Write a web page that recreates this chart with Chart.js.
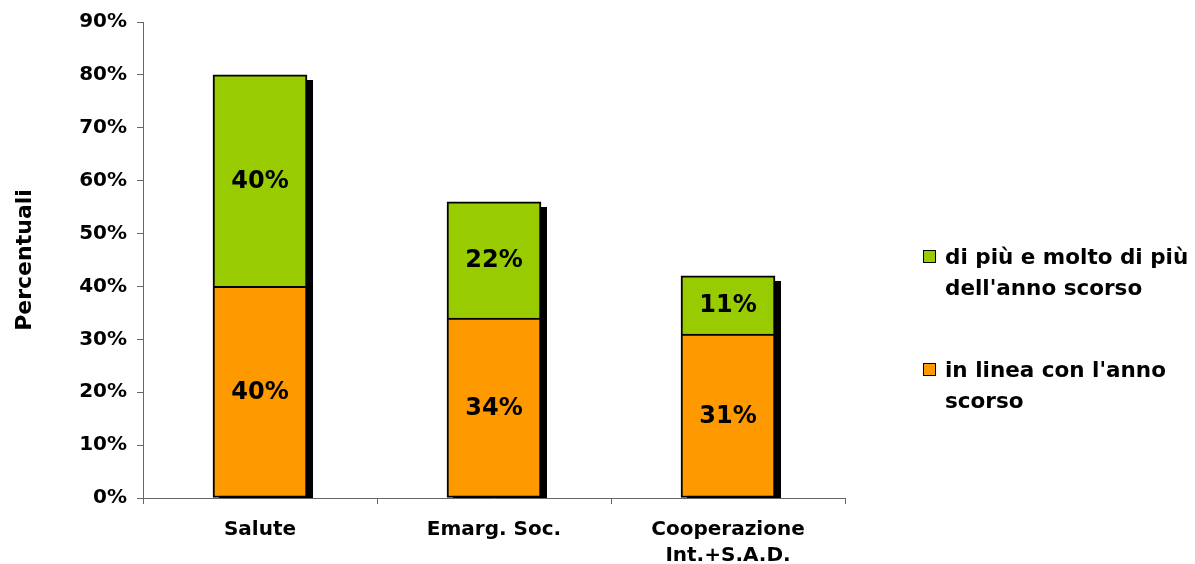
<!DOCTYPE html>
<html><head><meta charset="utf-8">
<script src="https://cdn.jsdelivr.net/npm/chart.js@4"></script>
<style>
body{margin:0;background:#fff;}
#wrap{position:relative;width:1195px;height:564px;}
#legend{position:absolute;left:923px;top:0;font-family:'DejaVu Sans',Verdana,sans-serif;font-weight:bold;font-size:21.5px;color:#000;}
.li{position:absolute;left:0;width:272px;line-height:31px;}
.sw{position:absolute;left:0;top:9px;width:11px;height:11px;border:1px solid #000;}
.tx{position:absolute;left:22px;white-space:nowrap;}
</style></head>
<body><div id="wrap"><canvas id="c" width="1195" height="564"></canvas><div id="legend"></div></div>
<script>
const categories = ["Salute", "Emarg. Soc.", ["Cooperazione", "Int.+S.A.D."]];
const inLinea = [40, 34, 31];
const diPiu = [40, 22, 11];
const seriesNames = ["in linea con l'anno scorso", "di più e molto di più dell'anno scorso"];
const legendLines = [["in linea con l'anno", "scorso"], ["di più e molto di più", "dell'anno scorso"]];
const colors = ["#FF9900", "#99CC00"];
const yTicks = [0,10,20,30,40,50,60,70,80,90];
const FONT = "'DejaVu Sans', Verdana, sans-serif";

const shadowPlugin = {
  id: 'shadow',
  beforeDatasetsDraw(chart) {
    const ctx = chart.ctx;
    const m0 = chart.getDatasetMeta(0), m1 = chart.getDatasetMeta(chart.data.datasets.length - 1);
    ctx.save();
    ctx.fillStyle = '#000';
    m0.data.forEach((b0, i) => {
      const top = m1.data[i];
      const p = top.getProps(['x','y','width','base'], true);
      const base = b0.getProps(['base'], true).base;
      ctx.fillRect(Math.round(p.x - p.width/2) + 6, Math.round(p.y) + 5, Math.round(p.width), Math.round(base - p.y) - 5);
    });
    ctx.restore();
  }
};
const labelPlugin = {
  id: 'vals',
  afterDatasetsDraw(chart) {
    const ctx = chart.ctx;
    ctx.save();
    ctx.font = 'bold 24px ' + FONT;
    ctx.fillStyle = '#000';
    ctx.textAlign = 'center';
    ctx.textBaseline = 'middle';
    chart.data.datasets.forEach((ds, di) => {
      chart.getDatasetMeta(di).data.forEach((bar, i) => {
        const p = bar.getProps(['x','y','base'], true);
        ctx.fillText(ds.data[i] + '%', p.x, (p.y + p.base) / 2 + 1);
      });
    });
    ctx.restore();
  }
};

const chart = new Chart(document.getElementById('c'), {
  type: 'bar',
  data: {
    labels: categories,
    datasets: [
      {label: seriesNames[0], data: inLinea, backgroundColor: colors[0], borderColor: '#000', borderWidth: 2, borderSkipped: false, barThickness: 94},
      {label: seriesNames[1], data: diPiu, backgroundColor: colors[1], borderColor: '#000', borderWidth: 2, borderSkipped: 'start', barThickness: 94}
    ]
  },
  options: {
    responsive: false,
    animation: false,
    layout: {padding: {top: 22, right: 350, left: 0, bottom: 0}},
    plugins: {legend: {display: false}, tooltip: {enabled: false}},
    scales: {
      x: {
        stacked: true,
        grid: {drawOnChartArea: false, drawTicks: true, tickLength: 6, color: '#666'},
        border: {color: '#666', width: 1},
        ticks: {color: '#000', font: {family: FONT, weight: 'bold', size: 20, lineHeight: 1.3}, padding: 13},
        afterFit(s) { s.height = 66; }
      },
      y: {
        stacked: true,
        min: 0, max: 90,
        afterBuildTicks(s) { s.ticks = yTicks.map(v => ({value: v})); },
        grid: {drawOnChartArea: false, drawTicks: true, tickLength: 6, color: '#666'},
        border: {color: '#666', width: 1},
        ticks: {color: '#000', font: {family: FONT, weight: 'bold', size: 20}, padding: 10, callback: v => v + '%'},
        title: {display: true, text: 'Percentuali', color: '#000', font: {family: FONT, weight: 'bold', size: 22}, padding: {top: 12, bottom: 12}},
        afterFit(s) { s.width = 143; }
      }
    }
  },
  plugins: [shadowPlugin, labelPlugin]
});

// HTML legend (green series listed first, as in the reference)
const leg = document.getElementById('legend');
const tops = [241, 354];
[1, 0].forEach((di, k) => {
  const ds = chart.data.datasets[di];
  const item = document.createElement('div');
  item.className = 'li';
  item.style.top = tops[k] + 'px';
  const sw = document.createElement('div');
  sw.className = 'sw';
  sw.style.background = ds.backgroundColor;
  item.appendChild(sw);
  const tx = document.createElement('div');
  tx.className = 'tx';
  tx.innerHTML = legendLines[di].map(t => t.replace(/&/g,'&amp;')).join('<br>');
  item.appendChild(tx);
  leg.appendChild(item);
});
</script>
</body></html>
